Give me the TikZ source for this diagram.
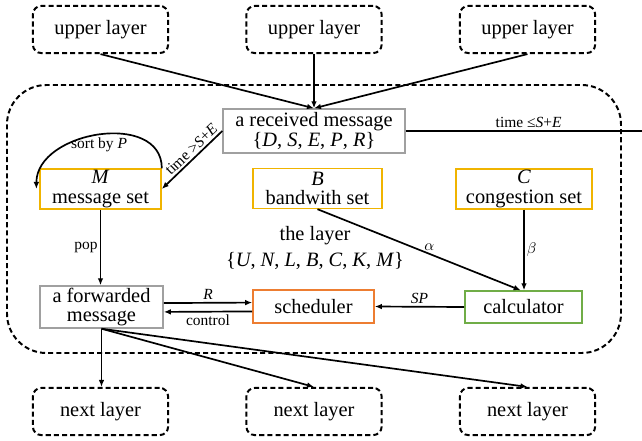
\documentclass[tikz,border=0pt]{standalone}
\usepackage{fontspec}
\setmainfont{Liberation Serif}
\usetikzlibrary{arrows.meta}

\definecolor{setgold}{RGB}{240,180,0}
\definecolor{schedorange}{RGB}{237,125,49}
\definecolor{calcgreen}{RGB}{112,173,71}
\definecolor{boxgray}{RGB}{160,160,160}
\newcommand\itv[1]{\textit{#1}}

\begin{document}
\begin{tikzpicture}[x=0.025cm, y=-0.025cm, >={Latex[length=5pt,width=4pt]},
  base/.style={align=center, inner sep=0pt, font=\fontsize{14.5}{14}\selectfont},
  layer/.style={base, draw, dash pattern=on 3.6pt off 2.2pt, line width=1.4pt, rounded corners=6pt, minimum width=3.38cm, minimum height=1.18cm},
  msgbox/.style={base, draw=boxgray, line width=1pt},
  setbox/.style={base, draw=setgold, line width=1pt, minimum height=1.0cm},
  wire/.style={line width=1.2pt, draw=black},
  lbl/.style={inner sep=1.5pt, font=\fontsize{11}{12}\selectfont}
]
\useasboundingbox (0,0) rectangle (642,440);
% the layer frame
\draw[dash pattern=on 3.6pt off 2.2pt, line width=1.4pt, rounded corners=28pt] (7,85) rectangle (621,353);

\node[layer] (up1) at (100.5,29.5) {upper layer};
\node[layer] (up2) at (314,29.5) {upper layer};
\node[layer] (up3) at (527.5,29.5) {upper layer};

\node[msgbox, minimum width=4.55cm, minimum height=1.1cm] (recv) at (314,131) {a received message\\\{\itv{D}, \itv{S}, \itv{E}, \itv{P}, \itv{R}\}};
\node[setbox, minimum width=3.03cm] (M) at (100.5,189) {\itv{M}\\message set};
\node[setbox, minimum width=3.23cm] (B) at (317.5,188.5) {\itv{B}\\bandwith set};
\node[setbox, minimum width=3.4cm] (C) at (524,189) {\itv{C}\\congestion set};
\node[base] (lyr) at (315,248) {the layer\\[5pt]\{\itv{U}, \itv{N}, \itv{L}, \itv{B}, \itv{C}, \itv{K}, \itv{M}\}};

\node[msgbox, minimum width=3.08cm, minimum height=1.05cm] (fwd) at (101.5,307) {a forwarded\\message};
\node[base, draw=schedorange, line width=1pt, minimum width=3.03cm, minimum height=0.83cm] (sched) at (313.5,306.5) {scheduler};
\node[base, draw=calcgreen, line width=1pt, minimum width=2.93cm, minimum height=0.8cm] (calc) at (523.5,307) {calculator};

\node[layer] (nx1) at (100.5,411.5) {next layer};
\node[layer] (nx2) at (314,411.5) {next layer};
\node[layer] (nx3) at (527.5,411.5) {next layer};

\coordinate (exit) at (642,131);

\draw[wire, ->] (up1.south) -- (recv.north);
\draw[wire, ->] (up2.south) -- (recv.north);
\draw[wire, ->] (up3.south) -- (recv.north);
\draw[wire, <-] (M.east) -- node[lbl, sloped, above, pos=0.58] (gt) {time >\itv{S}+\itv{E}} (recv.west);
\draw[wire] (recv.east) -- node[lbl, above, pos=0.52] (le) {time ≤\itv{S}+\itv{E}} (exit);
\draw[wire, ->] (M.north east) .. controls +(0,-58) and +(0,-58) .. ([xshift=-2pt]M.west) node[lbl, pos=0.5, below] (srt) {sort by \itv{P}};
\draw[wire, ->] (M.south) -- node[lbl, left] (pp) {pop} (M.south |- fwd.north);
\draw[wire, ->] ([yshift=2.8pt]fwd.east) -- node[lbl, above] (rr) {\itv{R}} ([yshift=2.8pt]sched.west);
\draw[wire, ->] ([yshift=-3.5pt]sched.west) -- node[lbl, below] (ctl) {control} ([yshift=-3.5pt]fwd.east);
\draw[wire, ->] (calc.west) -- node[lbl, above] (sp) {\itv{SP}} (sched.east);
\draw[wire, ->] (B.south) -- node[lbl, above, pos=0.55] (al) {$\alpha$} ([xshift=-2pt]calc.north);
\draw[wire, ->] (C.south) -- node[lbl, right] (be) {$\beta$} (C.south |- calc.north);

\draw[wire, ->] (fwd.south) -- (fwd.south |- nx1.north);
\draw[wire, ->] (fwd.south) -- (nx2.north);
\draw[wire, ->] (fwd.south) -- (nx3.north);
\end{tikzpicture}
\end{document}
